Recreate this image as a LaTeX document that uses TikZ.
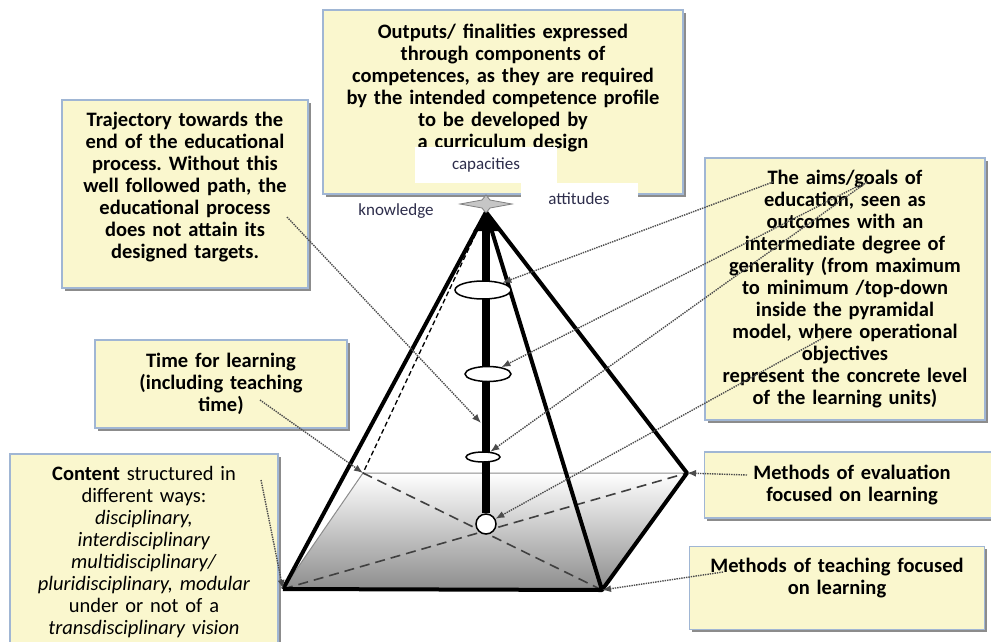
\documentclass[tikz,border=0pt]{standalone}
\usepackage{fontspec}
\setmainfont{Carlito}
\frenchspacing
\usetikzlibrary{arrows.meta,shapes.geometric,shadows}
\definecolor{boxyellow}{RGB}{250,247,206}
\definecolor{boxline}{RGB}{160,182,212}
\definecolor{labelink}{RGB}{45,45,75}
\tikzset{
  infobox/.style={draw=boxline, line width=1.5pt, fill=boxyellow, align=center,
    font=\fontsize{20.5}{22}\selectfont\bfseries, inner sep=3pt,
    drop shadow={shadow xshift=2.5pt, shadow yshift=-2.5pt, fill=black!45, opacity=1}},
  tag/.style={font=\fontsize{17}{19}\selectfont, text=labelink, inner sep=2pt},
  edge/.style={line width=4pt, line join=round},
  hidden/.style={dash pattern=on 10pt off 6pt, line width=1.6pt, black!75},
  pointer/.style={densely dotted, line width=1.4pt, black!70, -{Latex[length=9pt,width=7pt]}},
  stage/.style={ellipse, draw, line width=1.5pt, fill=white, inner sep=0pt}
}
\begin{document}
\begin{tikzpicture}[x=1pt, y=-1pt]
    \useasboundingbox (0,0) rectangle (991,641);

    % Caja superior con las finalidades
    \node[infobox, minimum width=360pt, minimum height=184pt, text width=350pt] (outputs) at (503,102)
        {Outputs/ finalities expressed\\ through components of\\ competences, as they are required\\
         by the intended competence profile\\ to be developed by\\ a curriculum design\\[10pt]\mbox{}};
    \node[tag, fill=white, minimum width=142pt, minimum height=36pt] (capacities) at (486,165) {capacities};
    \node[tag, fill=white, minimum width=117pt, minimum height=32pt] (attitudes) at (579,199) {attitudes};
    \node[tag] (knowledge) at (396,211) {knowledge};

    % Cajas de la izquierda
    \node[infobox, minimum width=246pt, minimum height=188pt, text width=236pt] (trajectory) at (185,194)
        {Trajectory towards the\\ end of the educational\\ process. Without this\\ well followed path, the\\
         educational process\\ does not attain its\\ designed targets.\\[-4pt]\mbox{}};
    \node[infobox, minimum width=252pt, minimum height=88pt, text width=242pt] (time) at (221,384)
        {Time for learning\\ (including teaching\\ time)};
    \node[infobox, font=\fontsize{20.5}{22}\selectfont, minimum width=268pt, minimum height=196pt, text width=258pt] (content) at (144,552)
        {\textbf{Content} structured in\\ different ways:\\ \textit{disciplinary,}\\ \textit{interdisciplinary}\\
         \textit{multidisciplinary/}\\ \textit{pluridisciplinary, modular}\\ under or not of a\\ \textit{transdisciplinary vision}};

    % Cajas de la derecha
    \node[infobox, minimum width=280pt, minimum height=262pt, text width=272pt] (aims) at (845,289)
        {The aims/goals of\\ education, seen as\\ outcomes with an\\ intermediate degree of\\ generality (from maximum\\
         to minimum /top-down\\ inside the pyramidal\\ model, where operational\\ objectives\\
         represent the concrete level\\ of the learning units)};
    \node[infobox, minimum width=295pt, minimum height=66pt, text width=285pt] (evaluation) at (852,485)
        {Methods of evaluation\\ focused on learning};
    \node[infobox, minimum width=295pt, minimum height=83pt, text width=285pt] (teaching) at (837,588)
        {Methods of teaching focused\\ on learning\\[2pt]\mbox{}};

    % Vertices de la piramide
    \coordinate (apex) at (486,212);
    \coordinate (fl) at (283,589);
    \coordinate (fr) at (602,590);
    \coordinate (br) at (687,473);
    \coordinate (bl) at (363,473);

    % Base sombreada y aristas
    \shade[top color=white, bottom color=black!45] (bl) -- (br) -- (fr) -- (fl) -- cycle;
    \draw[black!45, line width=1pt] (fl) -- (bl) -- (br);
    \draw[hidden] (bl) -- (fr) (fl) -- (br);
    \draw[dash pattern=on 5pt off 3pt, line width=1.3pt] (apex) -- (bl);
    \draw[edge] (fl) -- (apex) -- (fr) (apex) -- (br) -- (fr) -- (fl);

    % Estrella en la cima
    \draw[gray, fill=gray!45, line width=0.8pt] (460,204) -- (482,200) -- (486,195) -- (490,200)
        -- (512,204) -- (490,208) -- (486,213) -- (482,208) -- cycle;

    % Eje central con las etapas
    \node[circle, draw, line width=1.5pt, fill=white, minimum size=20pt, inner sep=0pt] (hub) at (486,524) {};
    \draw[line width=8pt, -{Triangle[length=19pt,width=24pt]}] (hub) -- (apex);
    \node[stage, minimum width=56pt, minimum height=18pt] (goal1) at (483,290) {};
    \node[stage, minimum width=46pt, minimum height=15pt] (goal2) at (488,374) {};
    \node[stage, minimum width=34pt, minimum height=10pt] (goal3) at (483,457) {};

    % Flechas punteadas
    \coordinate (trajectory-out) at (287,217);
    \coordinate (path-hit) at (481,423);
    \coordinate (time-out) at (260,400);
    \coordinate (content-out) at (261,480);
    \coordinate (aims-a) at (773,182);
    \coordinate (aims-b) at (860,185);
    \coordinate (aims-c) at (867,182);
    \coordinate (aims-d) at (823,338);
    \coordinate (evaluation-out) at (747,475);
    \coordinate (teaching-out) at (723,572);
    \draw[pointer] (trajectory-out) -- (path-hit);
    \draw[pointer] (time-out) -- (bl);
    \draw[pointer] (content-out) -- (fl);
    \draw[pointer] (aims-a) -- (goal1);
    \draw[pointer] (aims-b) -- (goal2);
    \draw[pointer] (aims-c) -- (goal3);
    \draw[pointer] (aims-d) -- (hub);
    \draw[pointer] (evaluation-out) -- (br);
    \draw[pointer] (teaching-out) -- (fr);

\end{tikzpicture}
\end{document}
